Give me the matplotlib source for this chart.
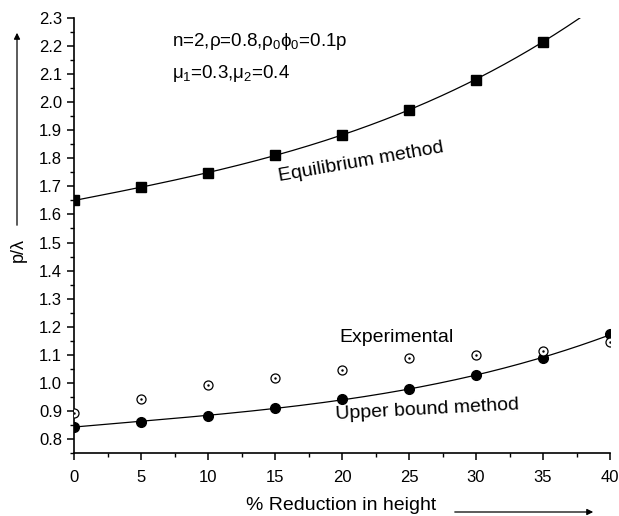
import numpy as np
import matplotlib
matplotlib.use("Agg")
import matplotlib.pyplot as plt
from matplotlib.ticker import MultipleLocator

plt.rcParams['font.family'] = ['Liberation Sans', 'DejaVu Sans']
plt.rcParams['mathtext.fontset'] = 'custom'
plt.rcParams['mathtext.rm'] = 'Liberation Sans'
plt.rcParams['mathtext.it'] = 'Liberation Sans'

reduction = [0, 5, 10, 15, 20, 25, 30, 35, 40]
equilibrium = [1.650, 1.697, 1.748, 1.811, 1.884, 1.973, 2.080, 2.216]
upper_bound = [0.844, 0.861, 0.883, 0.909, 0.942, 0.979, 1.027, 1.088, 1.173]
experimental = [0.891, 0.941, 0.991, 1.016, 1.046, 1.088, 1.100, 1.112, 1.146]

fig = plt.figure(figsize=(6.19, 5.16), dpi=100)
ax = fig.add_axes([74/619, 1-453/516, (610-74)/619, (453-18)/516])

xe = np.array(reduction[:len(equilibrium)])
xu = np.array(reduction)
xs = np.linspace(0, 40, 300)
ce = np.polyfit(xe, equilibrium, 3)
cu = np.polyfit(xu, upper_bound, 3)
ax.plot(xs, np.polyval(ce, xs), color='black', lw=0.9)
ax.plot(xs, np.polyval(cu, xs), color='black', lw=0.9)

ax.plot(xe, equilibrium, 's', color='black', ms=6.5, zorder=3)
ax.plot(xu, upper_bound, 'o', color='black', ms=7, zorder=3)
ax.plot(xu, experimental, 'o', mfc='white', mec='black', mew=0.9, ms=6.5, zorder=3, ls='none')
ax.plot(xu, experimental, '.', color='black', ms=1.5, zorder=4, ls='none')

ax.set_xlim(0, 40)
ax.set_ylim(0.75, 2.3)
ax.spines['top'].set_visible(False)
ax.spines['right'].set_visible(False)
ax.spines['left'].set_linewidth(1.2)
ax.spines['bottom'].set_linewidth(1.2)
ax.xaxis.set_major_locator(MultipleLocator(5))
ax.xaxis.set_minor_locator(MultipleLocator(2.5))
ax.yaxis.set_minor_locator(MultipleLocator(0.05))
ax.set_yticks(np.arange(0.8, 2.31, 0.1))
ax.set_yticklabels([f"{v:.1f}" for v in np.arange(0.8, 2.31, 0.1)])
ax.tick_params(which='major', direction='out', length=5, width=1.1, labelsize=12)
ax.tick_params(which='minor', direction='out', length=3, width=1.0)
ax.tick_params(axis='x', which='major', pad=7.5)

ax.text(7.3, 2.215, r'n=2,$\rho$=0.8,$\rho_0\phi_0$=0.1p', fontsize=13.5, va='center', ha='left')
ax.text(7.3, 2.104, r'$\mu_1$=0.3,$\mu_2$=0.4', fontsize=13.5, va='center', ha='left')
ax.text(21.4, 1.788, 'Equilibrium method', fontsize=14, rotation=10, ha='center', va='center', rotation_mode='anchor')
ax.text(24.1, 1.163, 'Experimental', fontsize=14, ha='center', va='center')
ax.text(26.4, 0.905, 'Upper bound method', fontsize=14, rotation=3, ha='center', va='center', rotation_mode='anchor')

fig.text(18/619, 1-250/516, 'p/λ', rotation=90, fontsize=13, ha='center', va='center')
fig.text(341/619, 1-505/516, '% Reduction in height', fontsize=14, ha='center', va='center')
fig.patches.append(matplotlib.patches.FancyArrowPatch((17/619, 1-228/516), (17/619, 1-30/516),
    transform=fig.transFigure, arrowstyle='-|>', mutation_scale=9, lw=0.9, color='black'))
fig.patches.append(matplotlib.patches.FancyArrowPatch((452/619, 1-512/516), (596/619, 1-512/516),
    transform=fig.transFigure, arrowstyle='-|>', mutation_scale=9, lw=0.9, color='black'))

fig.savefig('out.png', dpi=100)
